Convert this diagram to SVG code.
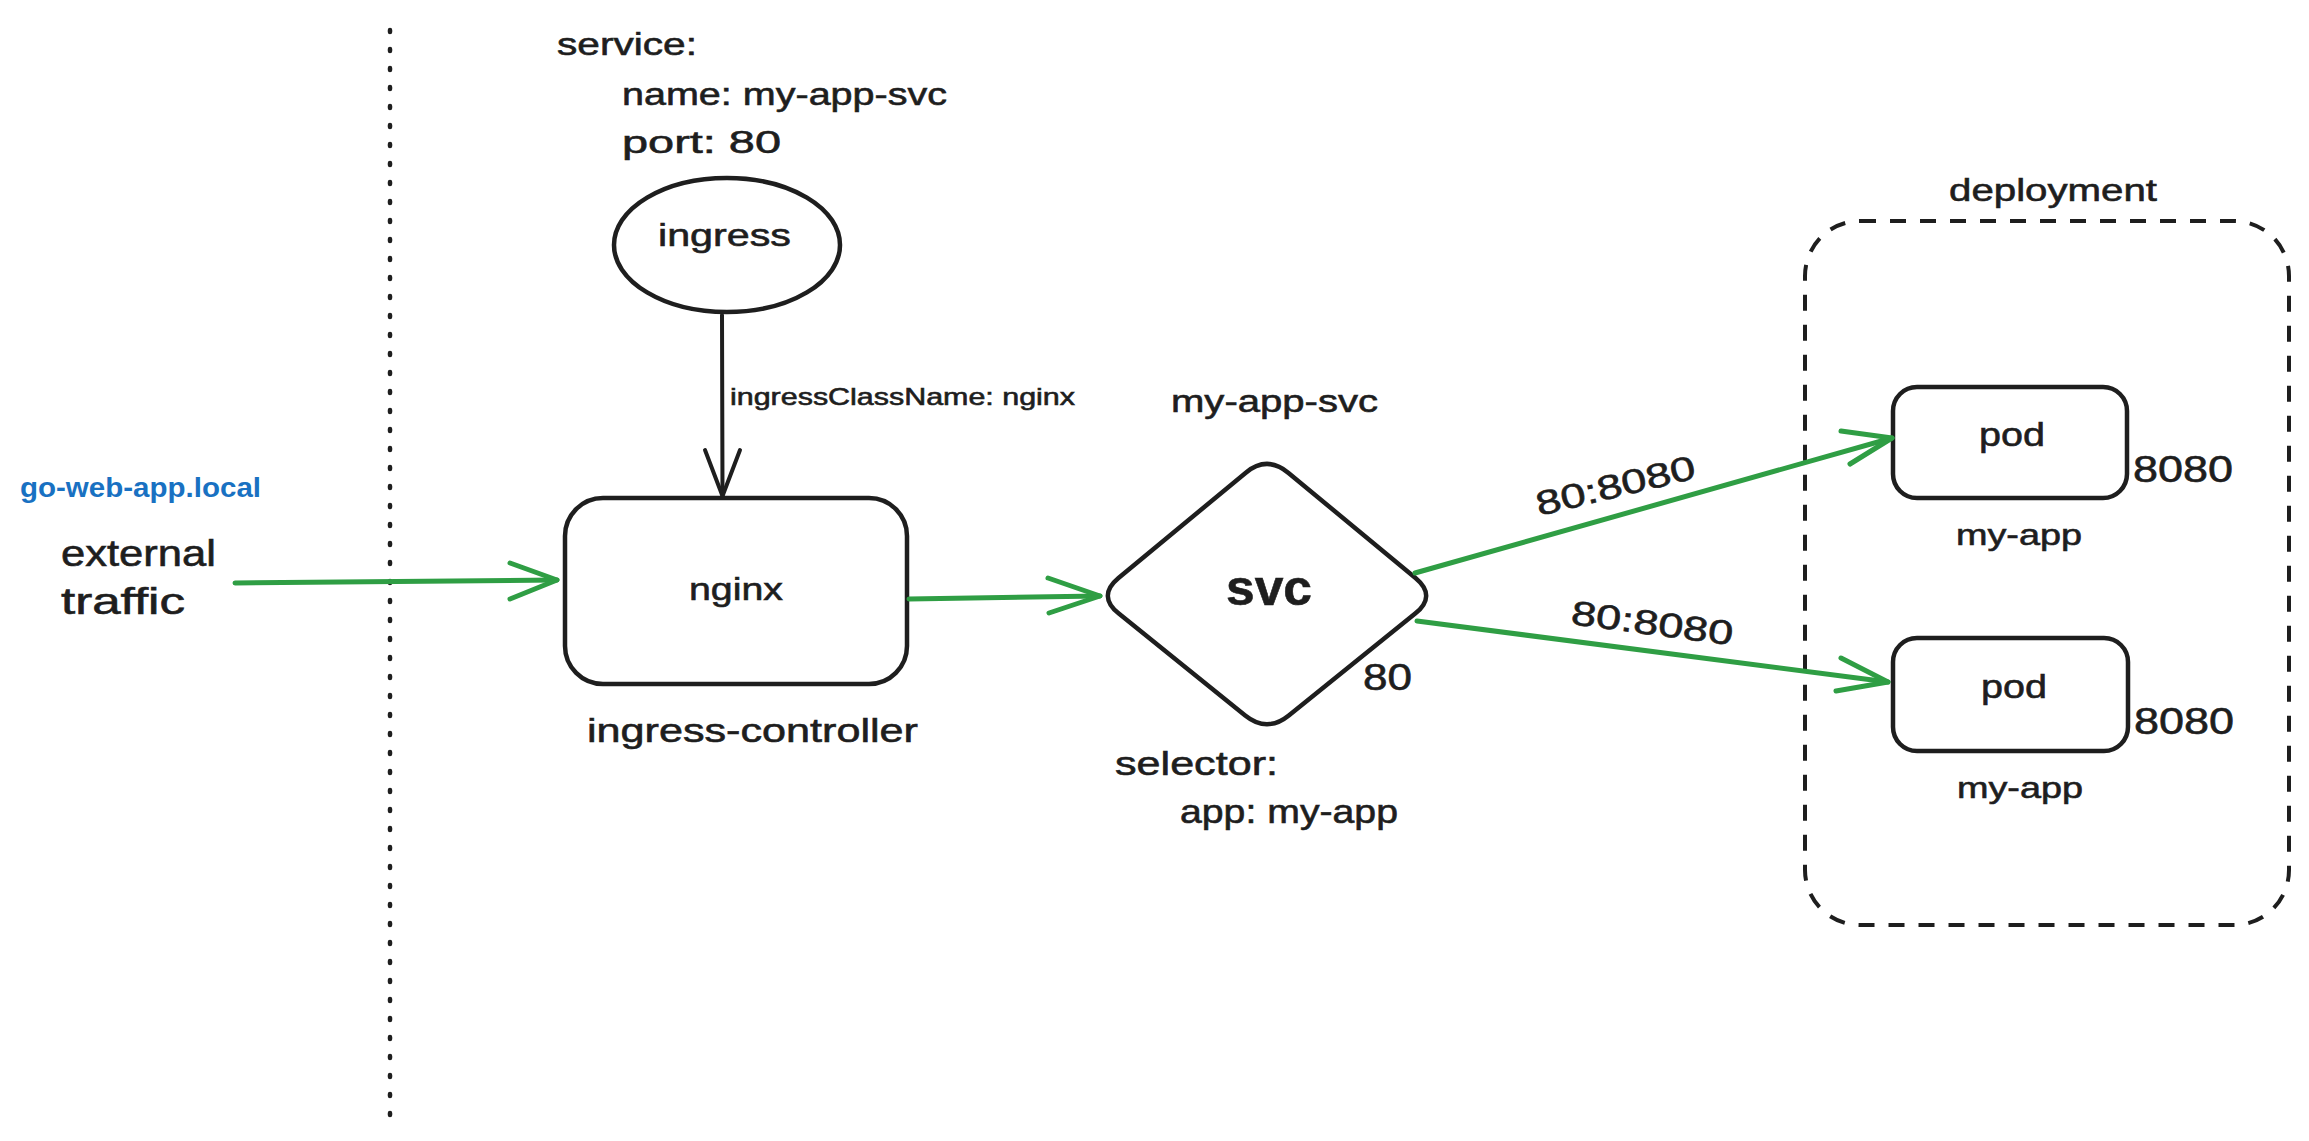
<svg xmlns="http://www.w3.org/2000/svg" width="2309" height="1141" viewBox="0 0 2309 1141">
<style>
  .t { font-family: "Liberation Sans", "DejaVu Sans", sans-serif; fill: #1e1e1e; stroke: #1e1e1e; stroke-width: 0.6; }
  .shape { fill: none; stroke: #1e1e1e; stroke-width: 4.5; stroke-linejoin: round; }
  .green { fill: none; stroke: #2f9e44; stroke-width: 5; stroke-linecap: round; stroke-linejoin: round; }
  .black { fill: none; stroke: #1e1e1e; stroke-width: 4; stroke-linecap: round; stroke-linejoin: round; }
</style>
<rect width="2309" height="1141" fill="#ffffff"/>

<g id="boundary">
  <line x1="390" y1="30" x2="390" y2="1116" stroke="#1e1e1e" stroke-width="4.5" stroke-linecap="round" stroke-dasharray="2 17"/>
</g>

<g id="service-spec">
  <text class="t" x="557" y="55" font-size="32" textLength="140" lengthAdjust="spacingAndGlyphs">service:</text>
  <text class="t" x="622" y="105" font-size="32" textLength="325" lengthAdjust="spacingAndGlyphs">name: my-app-svc</text>
  <text class="t" x="622" y="153" font-size="32" textLength="159" lengthAdjust="spacingAndGlyphs">port: 80</text>
</g>

<g id="ingress">
  <ellipse class="shape" cx="727" cy="245" rx="113" ry="67"/>
  <text class="t" x="658" y="246" font-size="32" textLength="133" lengthAdjust="spacingAndGlyphs">ingress</text>
</g>

<g id="external">
  <text x="20" y="497" font-family="Liberation Sans, Arial, sans-serif" font-weight="bold" font-size="28" fill="#1971c2" textLength="241" lengthAdjust="spacingAndGlyphs">go-web-app.local</text>
  <text class="t" x="61" y="566" font-size="36" textLength="155" lengthAdjust="spacingAndGlyphs">external</text>
  <text class="t" x="61" y="614" font-size="36" textLength="124" lengthAdjust="spacingAndGlyphs">traffic</text>
</g>

<g id="nginx">
  <rect class="shape" x="565" y="498" width="342" height="186" rx="38" ry="38"/>
  <text class="t" x="689" y="600" font-size="32" textLength="94" lengthAdjust="spacingAndGlyphs">nginx</text>
  <text class="t" x="587" y="742" font-size="34" textLength="331" lengthAdjust="spacingAndGlyphs">ingress-controller</text>
</g>

<g id="svc">
  <path class="shape" d="M 1245.5 472.9 Q 1267 455 1288.5 472.9 L 1415.5 578.1 Q 1437 596 1415.2 613.6 L 1288.8 715.4 Q 1267 733 1245.2 715.4 L 1118.8 613.6 Q 1097 596 1118.5 578.1 Z"/>
  <text class="t" x="1226" y="605" font-size="50" font-weight="bold" textLength="86" lengthAdjust="spacingAndGlyphs">svc</text>
  <text class="t" x="1171" y="412" font-size="32" textLength="207" lengthAdjust="spacingAndGlyphs">my-app-svc</text>
  <text class="t" x="1363" y="690" font-size="36" textLength="49" lengthAdjust="spacingAndGlyphs">80</text>
  <text class="t" x="1115" y="775" font-size="34" textLength="163" lengthAdjust="spacingAndGlyphs">selector:</text>
  <text class="t" x="1180" y="823" font-size="34" textLength="218" lengthAdjust="spacingAndGlyphs">app: my-app</text>
</g>

<g id="deployment">
  <rect x="1805" y="221" width="484" height="704" rx="55" ry="55" fill="none" stroke="#1e1e1e" stroke-width="4" stroke-dasharray="16 14"/>
  <text class="t" x="1949" y="201" font-size="32" textLength="208" lengthAdjust="spacingAndGlyphs">deployment</text>
</g>

<g id="pod1">
  <rect class="shape" x="1893" y="387" width="234" height="111" rx="24" ry="24"/>
  <text class="t" x="1979" y="446" font-size="34" textLength="66" lengthAdjust="spacingAndGlyphs">pod</text>
  <text class="t" x="2133" y="482" font-size="36" textLength="100" lengthAdjust="spacingAndGlyphs">8080</text>
  <text class="t" x="1956" y="545" font-size="30" textLength="126" lengthAdjust="spacingAndGlyphs">my-app</text>
</g>

<g id="pod2">
  <rect class="shape" x="1893" y="638" width="235" height="113" rx="24" ry="24"/>
  <text class="t" x="1981" y="698" font-size="34" textLength="66" lengthAdjust="spacingAndGlyphs">pod</text>
  <text class="t" x="2134" y="734" font-size="36" textLength="100" lengthAdjust="spacingAndGlyphs">8080</text>
  <text class="t" x="1957" y="798" font-size="30" textLength="126" lengthAdjust="spacingAndGlyphs">my-app</text>
</g>

<g id="connectors">
  <!-- ingress -> nginx -->
  <line class="black" x1="722" y1="315" x2="722.5" y2="496"/>
  <polyline class="black" points="705,450 722.5,496 740,450"/>
  <text class="t" x="730" y="405" font-size="24" textLength="345" lengthAdjust="spacingAndGlyphs">ingressClassName: nginx</text>

  <!-- external -> nginx -->
  <line class="green" x1="235" y1="583" x2="557" y2="580"/>
  <polyline class="green" points="510,563 557,580 510,599"/>

  <!-- nginx -> svc -->
  <line class="green" x1="909" y1="599" x2="1100" y2="596"/>
  <polyline class="green" points="1048,578 1100,596 1049,613"/>

  <!-- svc -> pod1 -->
  <line class="green" x1="1415" y1="573" x2="1892" y2="438"/>
  <polyline class="green" points="1841,431 1892,438 1850,464"/>
  <text class="t" x="0" y="0" font-size="34" textLength="163" lengthAdjust="spacingAndGlyphs" transform="translate(1539 516) rotate(-13.5)">80:8080</text>

  <!-- svc -> pod2 -->
  <line class="green" x1="1417" y1="621" x2="1888" y2="682"/>
  <polyline class="green" points="1841,658 1888,682 1836,691"/>
  <text class="t" x="0" y="0" font-size="34" textLength="163" lengthAdjust="spacingAndGlyphs" transform="translate(1570 624) rotate(7.5)">80:8080</text>
</g>
</svg>
